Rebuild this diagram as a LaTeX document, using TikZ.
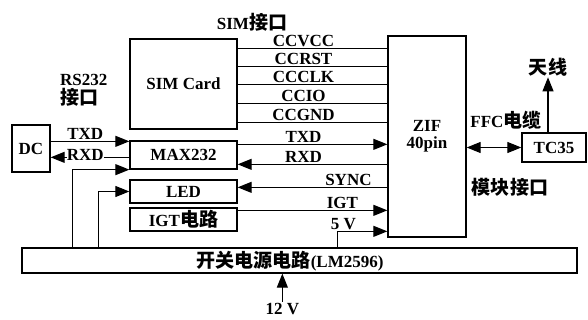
\documentclass[tikz,border=0pt]{standalone}
\usepackage{fontspec}
\setmainfont{Liberation Serif}
\newfontfamily\cjk{Noto Sans CJK SC}[Scale=1.12]
\usetikzlibrary{positioning,arrows.meta,calc}
\newcommand{\blkfont}{\fontsize{17}{19}\selectfont\bfseries}
\tikzset{
  blk/.style={draw, line width=1.3pt, inner sep=0pt, font=\blkfont},
  sigline/.style={line width=1.1pt},
  sigarr/.style={line width=1.1pt, -{Triangle[length=14pt,width=11pt]}},
  lbl/.style={font=\blkfont, inner sep=1pt},
}

\begin{document}
\begin{tikzpicture}[x=1pt, y=-1pt]
    \useasboundingbox (0,0) rectangle (588,320);
    % blocks
    \node[blk, minimum width=107pt, minimum height=90pt] (sim) at (183.5,84) {SIM Card};
    \node[blk, minimum width=78pt, minimum height=201pt, align=center] (zif) at (427,136.5) {ZIF\\[-2pt]40pin};
    \node[blk, minimum width=107pt, minimum height=28pt] (max) at (183.5,155) {MAX232};
    \node[blk, minimum width=107pt, minimum height=23pt] (led) at (183.5,191.5) {LED};
    \node[blk, minimum width=107pt, minimum height=23pt] (igt) at (183.5,219.5) {IGT{\cjk 电路}};
    \node[blk, minimum width=38pt, minimum height=47pt] (dc) at (31,148.5) {DC};
    \node[blk, minimum width=64pt, minimum height=29pt] (tc) at (554,147.5) {TC35};
    \node[blk, minimum width=555pt, minimum height=25pt] (pwr) at (299.5,260.5) {};
    \node[lbl] (pwrlbl) at (290,261) {{\cjk 开关电源电路}(LM2596)};
    % free labels
    \node[lbl] (simif) at (252,22) {SIM{\cjk 接口}};
    \node[lbl, anchor=west, align=left] (rsif) at (59,90) {RS232\\{\cjk 接口}};
    \node[lbl] (ffc) at (506,120) {FFC{\cjk 电缆}};
    \node[lbl] (modif) at (510,187) {{\cjk 模块接口}};
    % SIM lines
    \foreach \sg/\dy in {CCVCC/10, CCRST/28, CCCLK/46, CCIO/65, CCGND/84}
      \draw[sigline] ($(sim.north east)+(0,\dy)$) coordinate (s) -- (s -| zif.west)
        node[lbl, above, pos=0.44] (l\sg) {\sg};
    % MAX232 / LED / IGT to ZIF
    \coordinate (txdR) at ($(max.north east)+(0,4)$);
    \draw[sigarr] (txdR) -- (txdR -| zif.west) node[lbl, above, pos=0.44] (ltxdR) {TXD};
    \coordinate (rxdR) at ($(max.north east)+(0,24)$);
    \draw[sigarr] (rxdR -| zif.west) -- (rxdR) node[lbl, above, pos=0.56] (lrxdR) {RXD};
    \coordinate (sync) at ($(led.north east)+(0,8)$);
    \draw[sigarr] (sync -| zif.west) -- (sync) node[lbl, above, pos=0.26] (lsync) {SYNC};
    \coordinate (igtR) at ($(igt.north east)+(0,3)$);
    \draw[sigarr] (igtR) -- (igtR -| zif.west) node[lbl, above, pos=0.70] (ligt) {IGT};
    \draw[sigarr] ([xshift=316pt]pwr.north west) -- ++(0,-16) coordinate (c5)
      node[lbl, above, xshift=6pt] (l5v) {5 V} -- (c5 -| zif.west);
    % RS232 side
    \coordinate (txdL) at ($(dc.north east)+(0,17)$);
    \draw[sigarr] (txdL) -- (txdL -| max.west) node[lbl, above, pos=0.44] (ltxdL) {TXD};
    \coordinate (rxdL) at ($(dc.north east)+(0,33)$);
    \draw[sigarr] (rxdL -| max.west) -- (rxdL)
      node[lbl, pos=0.56, yshift=2pt, fill=white, inner sep=0pt] (lrxdL) {RXD};
    % supply
    \draw[sigarr] ([xshift=51pt]pwr.north west) |- (max.south west);
    \draw[sigarr] ([xshift=77pt]pwr.north west) |- (led.west);
    \coordinate (v12) at ([xshift=261pt,yshift=-28pt]pwr.south west);
    \draw[sigarr] (v12) -- (v12 |- pwr.south);
    \node[lbl, below] (l12) at (v12) {12 V};
    % TC35 side
    \draw[line width=1.1pt, {Triangle[length=14pt,width=11pt]}-{Triangle[length=14pt,width=11pt]}]
      (zif.east |- tc.west) -- (tc.west);
    \draw[sigarr] ([xshift=-6pt]tc.north) -- ++(0,-55) coordinate (ant);
    \node[lbl, above] (lant) at (ant) {{\cjk 天线}};
\end{tikzpicture}
\end{document}
